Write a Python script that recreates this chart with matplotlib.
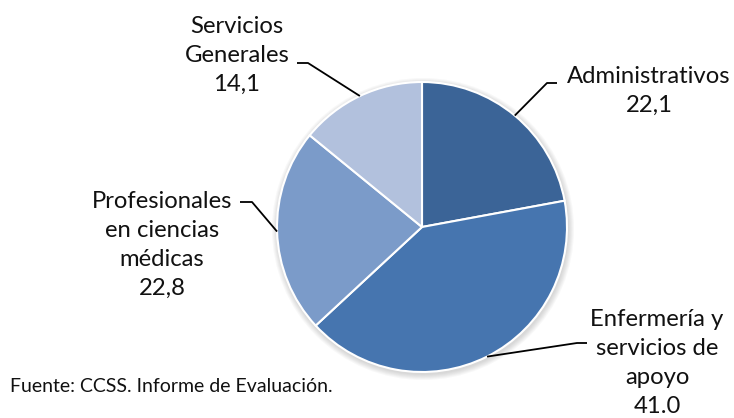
import numpy as np
import matplotlib.pyplot as plt
from matplotlib.patches import Circle

plt.rcParams['font.family'] = ['Lato', 'DejaVu Sans']

# datos
categorias = ['Administrativos', 'Enfermería y\nservicios de\napoyo',
              'Profesionales\nen ciencias\nmédicas', 'Servicios\nGenerales']
valores = [22.1, 41.0, 22.8, 14.1]
textos_valor = ['22,1', '41.0', '22,8', '14,1']
colores = ['#3B6497', '#4675AF', '#7B9BC9', '#B2C1DD']

# posiciones de las etiquetas (pixeles, origen arriba-izquierda)
pos_texto = [(649, 91), (657, 363), (162, 245), (237, 55)]
codo = [[(557, 83), (547, 83)],
        [(587, 343), (577, 343)],
        [(240, 202), (252, 202)],
        [(297, 63), (308, 63)]]

W, H = 734, 418
fig = plt.figure(figsize=(W / 100, H / 100), dpi=100)
ax = fig.add_axes([0, 0, 1, 1])

cx, cy, r = 422, H - 227, 145

# sombra suave alrededor del pastel
for k in range(6):
    ax.add_patch(Circle((cx + 1, cy - 2), r + 6 - k, color='#7a7a7a',
                        alpha=0.05, lw=0, zorder=1))

wedges, _ = ax.pie(valores, colors=colores, startangle=90, counterclock=False,
                   center=(cx, cy), radius=r, frame=True,
                   wedgeprops=dict(edgecolor='white', linewidth=1.5))
ax.set_xlim(0, W)
ax.set_ylim(0, H)
ax.set_aspect('equal')
ax.axis('off')

for i, w in enumerate(wedges):
    w.set_zorder(2)
    ang = np.deg2rad((w.theta1 + w.theta2) / 2)
    px, py = cx + r * np.cos(ang), cy + r * np.sin(ang)
    (x0, y0), (x1, y1) = codo[i]
    ax.plot([x0, x1, px], [H - y0, H - y1, py], color='black', lw=1.3,
            zorder=3, solid_capstyle='butt')
    tx, ty = pos_texto[i]
    ax.text(tx, H - ty, categorias[i] + '\n' + textos_valor[i],
            ha='center', va='center', fontsize=17.2, linespacing=1.47,
            color='#111111', zorder=4)

ax.text(10, H - 386, 'Fuente: CCSS. Informe de Evaluación.', ha='left',
        va='center', fontsize=14, color='#111111')

fig.savefig('out.png', dpi=100)
